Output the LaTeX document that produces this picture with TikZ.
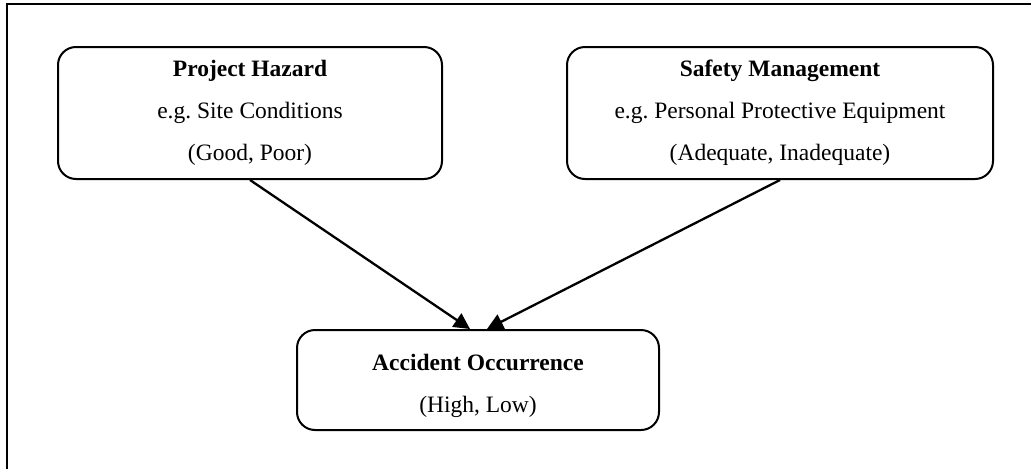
\documentclass[tikz,border=0pt]{standalone}
\usepackage{fontspec}
\setmainfont{Liberation Serif}
\usetikzlibrary{arrows.meta,calc}
\frenchspacing
\tikzset{
  box/.style={draw, line width=2pt, rounded corners=18pt, align=center,
    inner sep=0pt, font=\fontsize{23.5}{42}\selectfont},
  arr/.style={line width=2.3pt, -{Triangle[length=16pt,width=16pt]}},
  frame/.style={line width=2.6pt}
}
\begin{document}
\begin{tikzpicture}[x=1pt,y=-1pt]
\useasboundingbox (0,0) rectangle (1031,469);
\draw[frame] (1031,4) -- (7,4) -- (7,469);
\node[box, minimum width=384pt, minimum height=132pt] (ph) at (250,113)
  {\textbf{Project Hazard}\\e.g.\ Site Conditions\\(Good, Poor)};
\node[box, minimum width=426pt, minimum height=132pt] (sm) at (780,113)
  {\textbf{Safety Management}\\e.g.\ Personal Protective Equipment\\(Adequate, Inadequate)};
\node[box, minimum width=362pt, minimum height=100pt] (ac) at (478,380)
  {\rule{0pt}{28pt}\textbf{Accident Occurrence}\\(High, Low)};
\coordinate (acl) at ([xshift=-8pt]ac.north);
\coordinate (acr) at ([xshift=9pt]ac.north);
\draw[arr] (ph.south) -- (acl);
\draw[arr] (sm.south) -- (acr);
\end{tikzpicture}
\end{document}
